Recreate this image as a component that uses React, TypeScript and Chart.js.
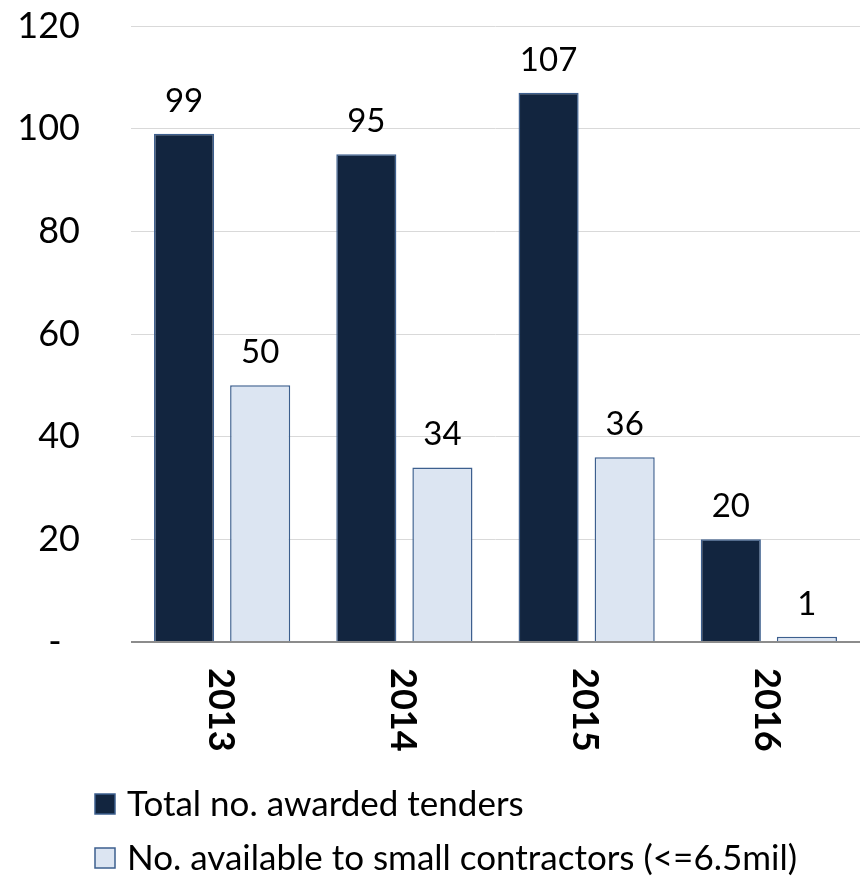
import React, { useEffect, useRef } from "react";
import { Chart, registerables } from "chart.js";

Chart.register(...registerables);

const categories = ["2013", "2014", "2015", "2016"];
const totalAwarded = [99, 95, 107, 20];
const smallContractors = [50, 34, 36, 1];
const seriesNames = ["Total no. awarded tenders", "No. available to small contractors (<=6.5mil)"];
const yTicks = [0, 20, 40, 60, 80, 100, 120];

const DARK = "#12253F";
const LIGHT = "#DCE5F2";
const BORDER = "#3D5F8E";
const FONT = "Lato, 'Open Sans', sans-serif";

const labelsPlugin = {
  id: "customLabels",
  afterDatasetsDraw(chart: any) {
    const ctx = chart.ctx;
    ctx.save();
    ctx.fillStyle = "#000";
    ctx.font = `33px ${FONT}`;
    ctx.textAlign = "center";
    ctx.textBaseline = "alphabetic";
    chart.data.datasets.forEach((ds: any, di: number) => {
      const meta = chart.getDatasetMeta(di);
      meta.data.forEach((bar: any, i: number) => {
        ctx.fillText(String(ds.data[i]), bar.x, bar.y - 22);
      });
    });
    // rotated x labels (clockwise)
    const xs = chart.scales.x;
    ctx.font = `bold 36px ${FONT}`;
    ctx.textAlign = "left";
    ctx.textBaseline = "middle";
    categories.forEach((c, i) => {
      const x = xs.getPixelForValue(i);
      ctx.save();
      ctx.translate(x - 2, chart.chartArea.bottom + 26);
      ctx.rotate(Math.PI / 2);
      ctx.fillText(c, 0, 0);
      ctx.restore();
    });
    // legend
    const rows = [
      { y: 804, fill: DARK, text: seriesNames[0] },
      { y: 858, fill: LIGHT, text: seriesNames[1] },
    ];
    ctx.font = `35px ${FONT}`;
    ctx.textBaseline = "middle";
    rows.forEach((r) => {
      ctx.fillStyle = r.fill;
      ctx.fillRect(95, r.y - 10, 20, 20);
      ctx.strokeStyle = BORDER;
      ctx.lineWidth = 1.5;
      ctx.strokeRect(95, r.y - 10, 20, 20);
      ctx.fillStyle = "#000";
      ctx.fillText(r.text, 127, r.y + 1);
    });
    ctx.restore();
  },
};

export default function App() {
  const ref = useRef<HTMLCanvasElement>(null);
  useEffect(() => {
    if (!ref.current) return;
    const chart = new Chart(ref.current, {
      type: "bar",
      data: {
        labels: categories,
        datasets: [
          {
            label: seriesNames[0],
            data: totalAwarded,
            backgroundColor: DARK,
            borderColor: BORDER,
            borderWidth: 1.5,
            categoryPercentage: 0.835,
            barPercentage: 0.79,
          },
          {
            label: seriesNames[1],
            data: smallContractors,
            backgroundColor: LIGHT,
            borderColor: BORDER,
            borderWidth: 1.5,
            categoryPercentage: 0.835,
            barPercentage: 0.79,
          },
        ],
      },
      options: {
        animation: false,
        responsive: true,
        maintainAspectRatio: false,
        layout: { padding: { top: 26, right: 5, left: 0, bottom: 0 } },
        plugins: { legend: { display: false }, tooltip: { enabled: false } },
        scales: {
          x: {
            grid: { display: false },
            border: { display: false },
            ticks: { display: false },
            afterFit: (s: any) => {
              s.height = 236;
            },
          },
          y: {
            min: 0,
            max: 120,
            afterBuildTicks: (s: any) => {
              s.ticks = yTicks.map((v) => ({ value: v }));
            },
            border: { display: false },
            grid: {
              drawTicks: false,
              color: (c: any) => (c.tick && c.tick.value === 0 ? "#8C8C8C" : "#D9D9D9"),
              lineWidth: (c: any) => (c.tick && c.tick.value === 0 ? 2 : 1),
            },
            ticks: {
              padding: 51,
              color: "#000",
              font: { size: 36, family: FONT },
              callback: (v: any) => (Number(v) === 0 ? "-  " : String(v)),
            },
            afterFit: (s: any) => {
              s.width = 131;
              s.paddingTop = 0;
              s.paddingBottom = 0;
            },
          },
        },
      },
      plugins: [labelsPlugin],
    });
    return () => chart.destroy();
  }, []);
  return (
    <div style={{ position: "absolute", left: 0, top: 0, width: 865, height: 878 }}>
      <canvas ref={ref} />
    </div>
  );
}
